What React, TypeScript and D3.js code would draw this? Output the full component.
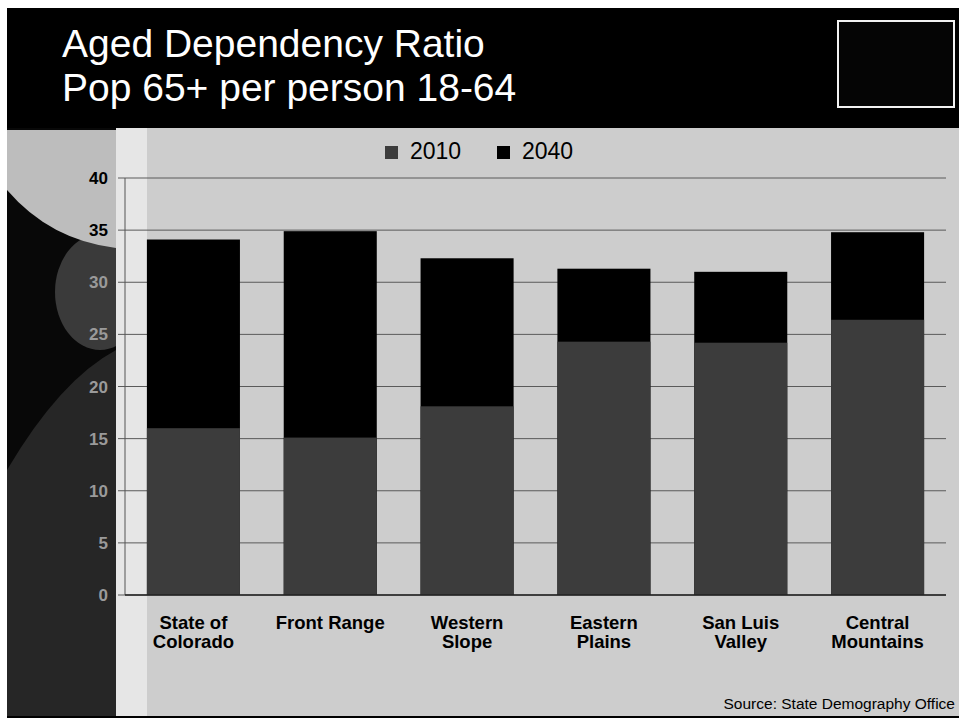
import React from "react";
import * as d3 from "d3";

const categories: string[][] = [
  ["State of", "Colorado"],
  ["Front Range"],
  ["Western", "Slope"],
  ["Eastern", "Plains"],
  ["San Luis", "Valley"],
  ["Central", "Mountains"],
];
const values2010: number[] = [16.0, 15.1, 18.1, 24.3, 24.2, 26.4];
const values2040: number[] = [34.1, 34.9, 32.3, 31.3, 31.0, 34.8];
const yTicks: number[] = [0, 5, 10, 15, 20, 25, 30, 35, 40];
const seriesNames: string[] = ["2010", "2040"];
const titleLines: string[] = ["Aged Dependency Ratio", "Pop 65+ per person 18-64"];
const sourceText = "Source: State Demography Office";

const W = 959;
const H = 720;
const FONT = "'Liberation Sans', Arial, sans-serif";

export default function App() {
  const keys = categories.map((c) => c.join(" "));
  const x = d3.scaleBand<string>().domain(keys).range([125, 946]).paddingInner(0.32).paddingOuter(0.16);
  const y = d3.scaleLinear().domain([0, 40]).range([595, 178]);
  const col2010 = "#3c3c3c";
  const col2040 = "#000000";

  const arcPath = (() => {
    const p = d3.path();
    p.moveTo(7, 130);
    p.lineTo(7, 190);
    p.quadraticCurveTo(50, 240, 116, 248);
    p.lineTo(116, 130);
    p.closePath();
    return p.toString();
  })();

  return (
    <svg width={W} height={H} style={{ position: "absolute", left: 0, top: 0, background: "#ffffff" }}>
      {/* page background */}
      <rect x={7} y={8} width={952} height={710} fill="#cdcdcd" />
      {/* left dark decoration */}
      <rect x={7} y={128} width={109} height={590} fill="#080808" />
      <ellipse cx={100} cy={292} rx={45} ry={58} fill="#3a3a3a" />
      <path d="M 7 470 Q 60 380 116 350 L 116 718 L 7 718 Z" fill="#262626" />
      <path d={arcPath} fill="#bdbdbd" />
      {/* light axis strip */}
      <rect x={116} y={128} width={31} height={590} fill="#e6e6e6" />

      {/* header */}
      <rect x={7} y={8} width={952} height={120} fill="#000" />
      {titleLines.map((t, i) => (
        <text key={t} x={62} y={57 + i * 44} fill="#fff" fontFamily={FONT} fontSize={39}>
          {t}
        </text>
      ))}
      <rect x={838} y={21} width={116} height={86} fill="#050505" stroke="#f2f2f2" strokeWidth={2} />

      {/* gridlines */}
      {yTicks.map((t) => (
        <line key={"g" + t} x1={118} x2={946} y1={y(t)} y2={y(t)} stroke="#5a5a5a" strokeWidth={1} />
      ))}
      <line x1={125} x2={125} y1={y(40)} y2={y(0)} stroke="#555" strokeWidth={1} />

      {/* y tick labels */}
      {yTicks.map((t) => (
        <text
          key={"t" + t}
          x={108}
          y={y(t) + 6}
          textAnchor="end"
          fontFamily={FONT}
          fontWeight="bold"
          fontSize={17}
          fill={t >= 35 ? "#000" : "#9a9a9a"}
        >
          {t}
        </text>
      ))}

      {/* bars */}
      {keys.map((k, i) => (
        <g key={k}>
          <rect x={x(k)} y={y(values2040[i])} width={x.bandwidth()} height={y(0) - y(values2040[i])} fill={col2040} />
          <rect x={x(k)} y={y(values2010[i])} width={x.bandwidth()} height={y(0) - y(values2010[i])} fill={col2010} />
        </g>
      ))}
      <line x1={125} x2={946} y1={y(0)} y2={y(0)} stroke="#222" strokeWidth={1.5} />

      {/* category labels */}
      {categories.map((lines, i) => (
        <text key={"c" + i} textAnchor="middle" fontFamily={FONT} fontWeight="bold" fontSize={18.5} fill="#000">
          {lines.map((l, j) => (
            <tspan key={l} x={(x(keys[i]) as number) + x.bandwidth() / 2} y={629 + j * 19}>
              {l}
            </tspan>
          ))}
        </text>
      ))}

      {/* legend */}
      {seriesNames.map((s, i) => (
        <g key={s} transform={`translate(${385 + i * 112},0)`}>
          <rect x={0} y={146} width={13} height={13} fill={i === 0 ? col2010 : col2040} />
          <text x={25} y={159} fontFamily={FONT} fontSize={23} fill="#000">
            {s}
          </text>
        </g>
      ))}

      {/* source */}
      <text x={955} y={709} textAnchor="end" fontFamily={FONT} fontSize={15.5} fill="#000">
        {sourceText}
      </text>
      <line x1={7} x2={959} y1={717} y2={717} stroke="#000" strokeWidth={2} />
    </svg>
  );
}
